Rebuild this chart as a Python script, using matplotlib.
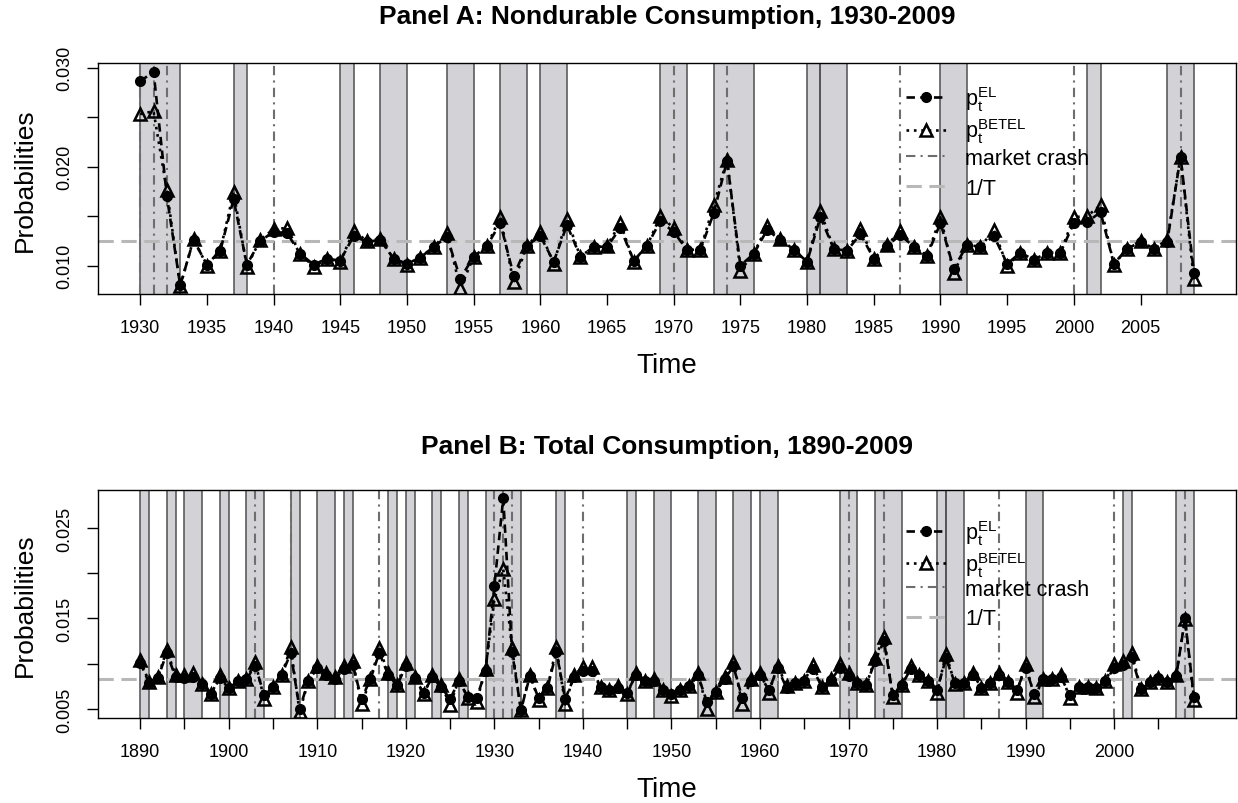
import numpy as np
import matplotlib.pyplot as plt
from matplotlib.lines import Line2D

plt.rcParams['font.family'] = ['Liberation Sans', 'DejaVu Sans']
plt.rcParams['mathtext.default'] = 'regular'

# Panel A: nondurable consumption, 1930-2009
years_a = np.arange(1930, 2010)
el_a = [0.0286, 0.0296, 0.0170, 0.0080, 0.0126, 0.0101, 0.0115, 0.0167, 0.0101, 0.0125,
        0.0134, 0.0133, 0.0112, 0.0101, 0.0107, 0.0105, 0.0130, 0.0124, 0.0126, 0.0107,
        0.0102, 0.0108, 0.0119, 0.0129, 0.0087, 0.0109, 0.0120, 0.0143, 0.0090, 0.0120,
        0.0130, 0.0104, 0.0141, 0.0109, 0.0119, 0.0119, 0.0138, 0.0105, 0.0120, 0.0145,
        0.0134, 0.0116, 0.0116, 0.0153, 0.0206, 0.0100, 0.0112, 0.0136, 0.0126, 0.0116,
        0.0104, 0.0149, 0.0117, 0.0115, 0.0132, 0.0107, 0.0120, 0.0131, 0.0119, 0.0110,
        0.0143, 0.0097, 0.0121, 0.0119, 0.0130, 0.0102, 0.0113, 0.0106, 0.0113, 0.0113,
        0.0143, 0.0144, 0.0154, 0.0102, 0.0117, 0.0124, 0.0117, 0.0124, 0.0210, 0.0093]
betel_a = [0.0253, 0.0256, 0.0176, 0.0079, 0.0127, 0.0100, 0.0115, 0.0174, 0.0099, 0.0126,
           0.0137, 0.0138, 0.0112, 0.0099, 0.0107, 0.0104, 0.0135, 0.0125, 0.0127, 0.0107,
           0.0101, 0.0108, 0.0119, 0.0133, 0.0077, 0.0109, 0.0120, 0.0149, 0.0083, 0.0120,
           0.0134, 0.0102, 0.0147, 0.0109, 0.0119, 0.0120, 0.0143, 0.0104, 0.0120, 0.0150,
           0.0138, 0.0116, 0.0116, 0.0161, 0.0207, 0.0095, 0.0112, 0.0140, 0.0127, 0.0116,
           0.0104, 0.0155, 0.0117, 0.0115, 0.0137, 0.0107, 0.0121, 0.0135, 0.0119, 0.0110,
           0.0149, 0.0093, 0.0121, 0.0119, 0.0136, 0.0100, 0.0113, 0.0106, 0.0113, 0.0113,
           0.0149, 0.0150, 0.0161, 0.0101, 0.0117, 0.0125, 0.0117, 0.0126, 0.0210, 0.0086]

# Panel B: total consumption, 1890-2009
years_b = np.arange(1890, 2010)
el_b = [0.0101, 0.0079, 0.0084, 0.0112, 0.0085, 0.0084, 0.0085, 0.0078, 0.0067, 0.0084,
        0.0073, 0.0081, 0.0083, 0.0098, 0.0065, 0.0074, 0.0088, 0.0112, 0.0050, 0.0081,
        0.0095, 0.0087, 0.0083, 0.0094, 0.0099, 0.0061, 0.0083, 0.0112, 0.0088, 0.0076,
        0.0097, 0.0084, 0.0068, 0.0085, 0.0074, 0.0061, 0.0081, 0.0063, 0.0062, 0.0092,
        0.0186, 0.0283, 0.0113, 0.0049, 0.0086, 0.0062, 0.0073, 0.0113, 0.0061, 0.0085,
        0.0092, 0.0092, 0.0074, 0.0071, 0.0073, 0.0068, 0.0088, 0.0081, 0.0081, 0.0071,
        0.0066, 0.0071, 0.0075, 0.0087, 0.0058, 0.0069, 0.0083, 0.0097, 0.0062, 0.0081,
        0.0087, 0.0071, 0.0095, 0.0073, 0.0079, 0.0081, 0.0094, 0.0074, 0.0082, 0.0095,
        0.0086, 0.0079, 0.0076, 0.0103, 0.0125, 0.0065, 0.0076, 0.0094, 0.0087, 0.0081,
        0.0071, 0.0106, 0.0079, 0.0079, 0.0088, 0.0073, 0.0079, 0.0087, 0.0080, 0.0071,
        0.0095, 0.0066, 0.0083, 0.0083, 0.0085, 0.0065, 0.0074, 0.0074, 0.0073, 0.0081,
        0.0095, 0.0099, 0.0107, 0.0072, 0.0080, 0.0084, 0.0080, 0.0086, 0.0150, 0.0063]
betel_b = [0.0104, 0.0080, 0.0085, 0.0115, 0.0087, 0.0087, 0.0090, 0.0078, 0.0066, 0.0087,
           0.0073, 0.0081, 0.0083, 0.0102, 0.0061, 0.0074, 0.0088, 0.0118, 0.0047, 0.0081,
           0.0098, 0.0090, 0.0085, 0.0098, 0.0103, 0.0055, 0.0083, 0.0117, 0.0090, 0.0077,
           0.0101, 0.0085, 0.0066, 0.0087, 0.0077, 0.0054, 0.0083, 0.0062, 0.0058, 0.0094,
           0.0171, 0.0205, 0.0117, 0.0049, 0.0088, 0.0060, 0.0073, 0.0118, 0.0055, 0.0088,
           0.0096, 0.0096, 0.0074, 0.0071, 0.0075, 0.0066, 0.0090, 0.0081, 0.0083, 0.0071,
           0.0064, 0.0071, 0.0075, 0.0090, 0.0050, 0.0069, 0.0085, 0.0102, 0.0055, 0.0083,
           0.0090, 0.0068, 0.0098, 0.0075, 0.0079, 0.0081, 0.0099, 0.0074, 0.0083, 0.0100,
           0.0090, 0.0079, 0.0076, 0.0106, 0.0130, 0.0063, 0.0076, 0.0097, 0.0087, 0.0081,
           0.0068, 0.0111, 0.0078, 0.0079, 0.0090, 0.0073, 0.0079, 0.0090, 0.0080, 0.0068,
           0.0100, 0.0063, 0.0083, 0.0083, 0.0088, 0.0062, 0.0074, 0.0074, 0.0073, 0.0081,
           0.0100, 0.0103, 0.0112, 0.0072, 0.0080, 0.0084, 0.0080, 0.0088, 0.0149, 0.0060]

# recession periods (shaded) and market crash years
recessions = [(1890, 1891), (1893, 1894), (1895, 1897), (1899, 1900), (1902, 1904),
              (1907, 1908), (1910, 1912), (1913, 1914), (1918, 1919), (1920, 1921),
              (1923, 1924), (1926, 1927), (1929, 1933), (1937, 1938), (1945, 1946),
              (1948, 1950), (1953, 1955), (1957, 1959), (1960, 1962), (1969, 1971),
              (1973, 1976), (1980, 1981), (1981, 1983), (1990, 1992), (2001, 2002),
              (2007, 2009)]
crash_years = [1903, 1907, 1917, 1930, 1931, 1932, 1940, 1970, 1974, 1987, 2000, 2008]

title_a = 'Panel A: Nondurable Consumption, 1930-2009'
title_b = 'Panel B: Total Consumption, 1890-2009'
xticks_a = np.arange(1930, 2006, 5)
xticks_b = np.arange(1890, 2006, 5)
yticks_a = [0.010, 0.015, 0.020, 0.025, 0.030]
ylabels_a = ['0.010', '', '0.020', '', '0.030']
yticks_b = [0.005, 0.010, 0.015, 0.020, 0.025]
ylabels_b = ['0.005', '', '0.015', '', '0.025']

SHADE = '#d3d3d7'
EDGE = '#505050'
CRASH = '#6e6e6e'
ONE_T = '#b8b8b8'

el_style = dict(color='black', lw=1.9, dashes=(3.2, 2), marker='o', markersize=7)
betel_style = dict(color='black', lw=1.9, dashes=(1, 1.8), marker='^', markersize=9,
                   markerfacecolor='none', markeredgewidth=1.8)
crash_style = dict(color=CRASH, lw=1.5, dashes=(4.5, 2.5, 1, 2.5))
one_t_style = dict(color=ONE_T, lw=2.2, dashes=(5, 2.5))


def panel(ax, years, el, betel, xticks, xlabels, yticks, ylabels, leg_top1, leg_top2, leg_sp):
    first, last = years[0], years[-1]
    for s, e in recessions:
        if e < first:
            continue
        s = max(s, first)
        ax.axvspan(s, e, color=SHADE, lw=0, zorder=0)
        ax.axvline(s, color=EDGE, lw=1.1, zorder=1)
        ax.axvline(e, color=EDGE, lw=1.1, zorder=1)
    for c in crash_years:
        if first <= c <= last:
            ax.axvline(c, zorder=2, **crash_style)
    ax.axhline(1 / len(years), zorder=2, **one_t_style)

    ax.plot(years, el, zorder=4, **el_style)
    ax.plot(years, betel, zorder=5, **betel_style)

    # R-style axis range: 4% padding, y range from the EL series
    span = last - first
    ax.set_xlim(first - 0.04 * span, last + 0.04 * span)
    lo, hi = min(el), max(el)
    ax.set_ylim(lo - 0.04 * (hi - lo), hi + 0.04 * (hi - lo))

    ax.set_xticks(xticks)
    ax.set_xticklabels(xlabels, fontsize=13)
    ax.set_yticks(yticks)
    ax.set_yticklabels(ylabels, fontsize=13, rotation=90, va='center')
    ax.tick_params(direction='out', length=8, width=1, pad=10)
    for sp in ax.spines.values():
        sp.set_linewidth(1)

    common = dict(loc='upper left', frameon=False, fontsize=15.5, handlelength=1.85,
                  handletextpad=0.9, borderpad=0, borderaxespad=0, numpoints=1)
    leg1 = ax.legend([Line2D([], [], **el_style), Line2D([], [], **betel_style)],
                     ['$p_t^{EL}$', '$p_t^{BETEL}$'], bbox_to_anchor=(0.71, leg_top1),
                     labelspacing=0.15, **common)
    ax.add_artist(leg1)
    ax.legend([Line2D([], [], **crash_style), Line2D([], [], **one_t_style)],
              ['market crash', '1/T'], bbox_to_anchor=(0.71, leg_top2),
              labelspacing=leg_sp, **common)


fig = plt.figure(figsize=(12.38, 8.04), dpi=100)
ax_a = fig.add_axes([0.0792, 0.6331, 0.9192, 0.2873])
ax_b = fig.add_axes([0.0792, 0.1053, 0.9192, 0.2844])

panel(ax_a, years_a, el_a, betel_a, xticks_a, [str(t) for t in xticks_a],
      yticks_a, ylabels_a, 0.909, 0.634, 0.43)
panel(ax_b, years_b, el_b, betel_b, xticks_b,
      [str(t) if t % 10 == 0 else '' for t in xticks_b], yticks_b, ylabels_b,
      0.877, 0.61, 0.38)

W, H = 1238, 804
fig.text(667 / W, 1 - 17 / H, title_a, ha='center', va='center', fontsize=19, fontweight='bold')
fig.text(667 / W, 1 - 447 / H, title_b, ha='center', va='center', fontsize=19, fontweight='bold')
fig.text(667 / W, 1 - 366 / H, 'Time', ha='center', va='center', fontsize=20)
fig.text(667 / W, 1 - 790 / H, 'Time', ha='center', va='center', fontsize=20)
fig.text(25 / W, 1 - 180 / H, 'Probabilities', ha='center', va='center', fontsize=19, rotation=90)
fig.text(25 / W, 1 - 605 / H, 'Probabilities', ha='center', va='center', fontsize=19, rotation=90)

fig.savefig('out.png', dpi=100)
